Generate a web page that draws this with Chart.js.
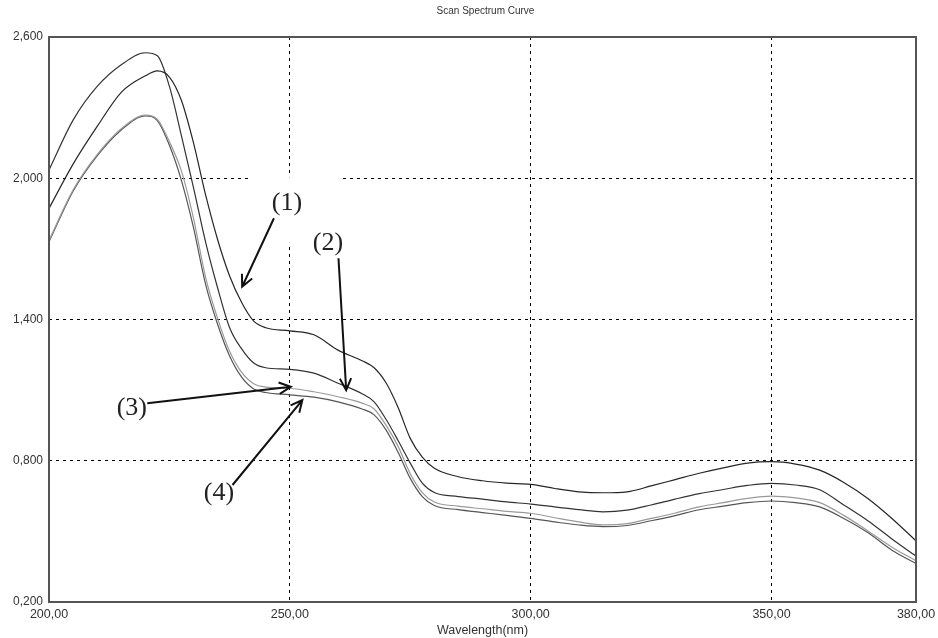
<!DOCTYPE html>
<html>
<head>
<meta charset="utf-8">
<title>Scan Spectrum Curve</title>
<script src="https://cdn.jsdelivr.net/npm/chart.js@4.4.1/dist/chart.umd.min.js"></script>
<style>
    html, body { margin: 0; padding: 0; background: #fff; }
    #wrap { width: 938px; height: 638px; }
</style>
</head>
<body>
<div id="wrap"><canvas id="spectrumChart" width="938" height="638"></canvas></div>
<script>
// wavelength (nm) and absorbance of the four scans
const wavelengths = [200, 205, 210, 215, 220, 222.5, 225, 227.5, 230, 232.5, 235, 237.5, 240, 242.5, 245,
    250, 255, 260, 265, 267.5, 270, 272.5, 275, 277.5, 280, 285, 290, 295, 300, 305, 310, 315, 320,
    325, 330, 335, 340, 345, 350, 355, 360, 365, 370, 375, 380];

const curve1 = [1.872, 2.06, 2.22, 2.365, 2.435, 2.456, 2.43, 2.33, 2.15, 1.93, 1.74, 1.585, 1.472, 1.393, 1.365,
    1.352, 1.335, 1.27, 1.225, 1.195, 1.13, 1.025, 0.895, 0.815, 0.768, 0.732, 0.715, 0.705, 0.700, 0.682, 0.668, 0.664, 0.668,
    0.693, 0.72, 0.747, 0.770, 0.790, 0.796, 0.786, 0.760, 0.708, 0.640, 0.555, 0.460];

const curve2 = [2.035, 2.247, 2.39, 2.482, 2.533, 2.52, 2.39, 2.18, 1.96, 1.73, 1.535, 1.365, 1.275, 1.215, 1.195,
    1.188, 1.172, 1.129, 1.085, 1.05, 0.975, 0.885, 0.79, 0.705, 0.665, 0.648, 0.637, 0.625, 0.616, 0.604, 0.592, 0.583, 0.59,
    0.612, 0.637, 0.66, 0.678, 0.695, 0.704, 0.697, 0.677, 0.612, 0.545, 0.468, 0.395];

const curve3 = [1.737, 1.95, 2.10, 2.21, 2.268, 2.25, 2.155, 2.03, 1.83, 1.58, 1.405, 1.265, 1.175, 1.127, 1.113,
    1.108, 1.093, 1.072, 1.045, 1.02, 0.95, 0.86, 0.745, 0.665, 0.625, 0.607, 0.596, 0.585, 0.577, 0.558, 0.54, 0.528, 0.533,
    0.555, 0.578, 0.604, 0.622, 0.640, 0.650, 0.642, 0.622, 0.568, 0.502, 0.433, 0.375];

const curve4 = [1.73, 1.945, 2.095, 2.205, 2.265, 2.245, 2.14, 1.99, 1.79, 1.55, 1.38, 1.245, 1.155, 1.105, 1.09,
    1.08, 1.07, 1.05, 1.02, 0.995, 0.93, 0.835, 0.725, 0.648, 0.61, 0.592, 0.58, 0.568, 0.555, 0.54, 0.527, 0.52, 0.525,
    0.545, 0.567, 0.592, 0.607, 0.622, 0.629, 0.622, 0.604, 0.555, 0.495, 0.42, 0.364];

const xTicks = [200, 250, 300, 350, 380];
const yTicks = [0.2, 0.8, 1.4, 2.0, 2.6];

const curveNames = ["(1)", "(2)", "(3)", "(4)"];
const curveColors = ["#262626", "#333333", "#9a9a9a", "#555555"];

// callout labels with arrows, in data units (wavelength, absorbance)
const calloutText = [[249.4, 1.894], [257.9, 1.724], [217.2, 1.023], [235.3, 0.662]];
const arrowFrom = [[246.7, 1.830], [260.1, 1.660], [220.4, 1.044], [238.1, 0.697]];
const arrowTo = [[240.1, 1.539], [261.7, 1.100], [250.2, 1.114], [252.6, 1.058]];
// blank patch behind callout (1): x from, y top, x to, y bottom
const blankPatch = [241.9, 2.0, 260.2, 1.73];

const allCurves = [curve1, curve2, curve3, curve4];

function toPoints(values) {
    return values.map((v, i) => ({ x: wavelengths[i], y: v }));
}

function drawArrow(ctx, x1, y1, x2, y2) {
    const angle = Math.atan2(y2 - y1, x2 - x1);
    const head = 13;
    ctx.beginPath();
    ctx.moveTo(x1, y1);
    ctx.lineTo(x2, y2);
    ctx.moveTo(x2 - head * Math.cos(angle - 0.45), y2 - head * Math.sin(angle - 0.45));
    ctx.lineTo(x2, y2);
    ctx.lineTo(x2 - head * Math.cos(angle + 0.45), y2 - head * Math.sin(angle + 0.45));
    ctx.stroke();
}

const framePlugin = {
    id: "frame",
    beforeDatasetsDraw(chart) {
        // white patch that cuts the grid behind label (1)
        const { ctx, scales } = chart;
        const x1 = scales.x.getPixelForValue(blankPatch[0]);
        const y1 = scales.y.getPixelForValue(blankPatch[1]) - 1;
        const x2 = scales.x.getPixelForValue(blankPatch[2]);
        const y2 = scales.y.getPixelForValue(blankPatch[3]);
        ctx.save();
        ctx.fillStyle = "#fff";
        ctx.fillRect(x1, y1, x2 - x1, y2 - y1 + 1);
        ctx.restore();
    },
    afterDraw(chart) {
        const { ctx, chartArea, scales } = chart;
        ctx.save();

        // plot frame
        ctx.strokeStyle = "#555";
        ctx.lineWidth = 2;
        ctx.strokeRect(chartArea.left, chartArea.top, chartArea.right - chartArea.left, chartArea.bottom - chartArea.top);

        // title
        ctx.fillStyle = "#333";
        ctx.font = "10px 'Liberation Sans', Arial, sans-serif";
        ctx.textAlign = "center";
        ctx.textBaseline = "middle";
        ctx.fillText("Scan Spectrum Curve", (chartArea.left + chartArea.right) / 2 + 3, 11);

        // callouts
        ctx.strokeStyle = "#111";
        ctx.fillStyle = "#222";
        ctx.lineWidth = 2;
        ctx.font = "26px 'Liberation Serif', 'Times New Roman', serif";
        curveNames.forEach((name, i) => {
            const tx = scales.x.getPixelForValue(calloutText[i][0]);
            const ty = scales.y.getPixelForValue(calloutText[i][1]);
            ctx.fillText(name, tx, ty);
            drawArrow(ctx,
                scales.x.getPixelForValue(arrowFrom[i][0]), scales.y.getPixelForValue(arrowFrom[i][1]),
                scales.x.getPixelForValue(arrowTo[i][0]), scales.y.getPixelForValue(arrowTo[i][1]));
        });
        ctx.restore();
    }
};

function innerGridColor(context, count) {
    return (context.index === 0 || context.index === count - 1) ? "rgba(0,0,0,0)" : "#000";
}

const ctx = document.getElementById("spectrumChart").getContext("2d");

new Chart(ctx, {
    type: "line",
    data: {
        datasets: allCurves.map((values, i) => ({
            label: curveNames[i],
            data: toPoints(values),
            borderColor: curveColors[i],
            borderWidth: 1.2,
            pointRadius: 0,
            fill: false,
            cubicInterpolationMode: "monotone"
        }))
    },
    options: {
        responsive: false,
        animation: false,
        devicePixelRatio: 1,
        layout: { padding: { top: 37, right: 22, left: 0, bottom: 0 } },
        plugins: {
            legend: { display: false },
            title: { display: false },
            tooltip: { enabled: false }
        },
        scales: {
            x: {
                type: "linear",
                min: 200,
                max: 380,
                afterBuildTicks: scale => { scale.ticks = xTicks.map(v => ({ value: v })); },
                afterFit: scale => {
                    scale.height = 36;
                    // let the end labels overhang instead of shrinking the plot
                    scale.paddingLeft = 0;
                    scale.paddingRight = 0;
                },
                grid: {
                    color: c => innerGridColor(c, xTicks.length),
                    lineWidth: 1,
                    drawTicks: false
                },
                border: { display: false, dash: [3, 4] },
                ticks: {
                    padding: 5,
                    color: "#333",
                    font: { family: "'Liberation Sans', Arial, sans-serif", size: 12.5 },
                    maxRotation: 0,
                    callback: value => value.toFixed(2).replace(".", ",")
                },
                title: {
                    display: true,
                    text: "Wavelength(nm)",
                    color: "#333",
                    padding: { top: 0, bottom: 0 },
                    font: { family: "'Liberation Sans', Arial, sans-serif", size: 12.5 }
                }
            },
            y: {
                type: "linear",
                min: 0.2,
                max: 2.6,
                afterBuildTicks: scale => { scale.ticks = yTicks.map(v => ({ value: v })); },
                afterFit: scale => { scale.width = 49; },
                grid: {
                    color: c => innerGridColor(c, yTicks.length),
                    lineWidth: 1,
                    drawTicks: false
                },
                border: { display: false, dash: [3, 4] },
                ticks: {
                    padding: 6,
                    color: "#333",
                    font: { family: "'Liberation Sans', Arial, sans-serif", size: 12 },
                    callback: value => value.toFixed(3).replace(".", ",")
                }
            }
        }
    },
    plugins: [framePlugin]
});
</script>
</body>
</html>
